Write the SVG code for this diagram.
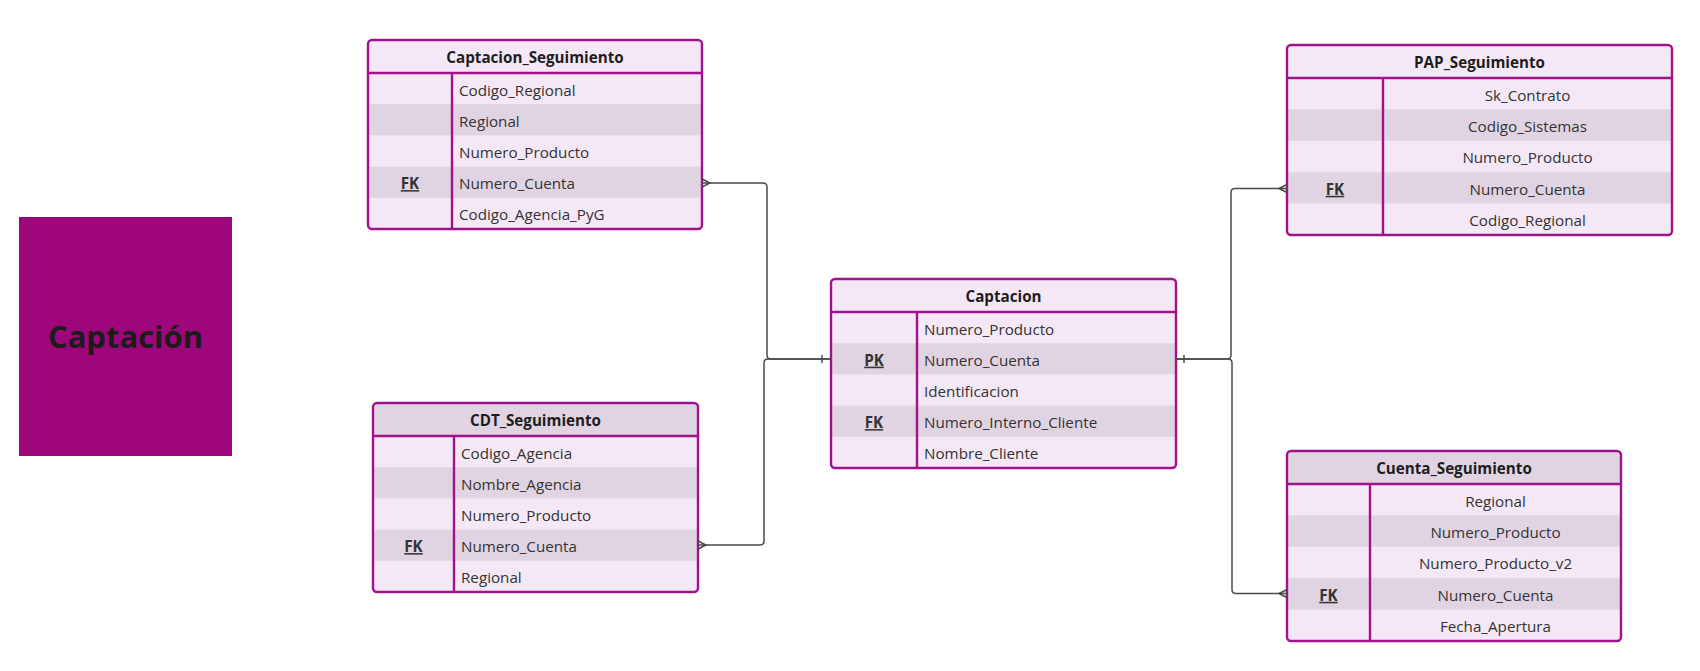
<svg xmlns="http://www.w3.org/2000/svg" width="1700" height="671" viewBox="0 0 1700 671">
<style>
.bg{fill:#f4e8f6}
.dk{fill:#e1d4e2}
.bd{fill:none;stroke:#a0118d;stroke-width:2.4}
.ln{stroke:#a0118d;stroke-width:2.4}
.hd{font-family:"Open Sans","Noto Sans",sans-serif;font-weight:bold;font-size:15.2px;fill:#1d1d1d;text-anchor:middle}
.tx{font-family:"Open Sans","Noto Sans",sans-serif;font-size:15.2px;fill:#333333}
.ct{text-anchor:middle}
.ky{font-family:"Open Sans","Noto Sans",sans-serif;font-weight:bold;font-size:15.2px;fill:#333333;text-anchor:middle;text-decoration:underline}
.cn{fill:none;stroke:#4a4a4a;stroke-width:1.5}
</style>
<rect width="1700" height="671" fill="#ffffff"/>

<g id="title">
<rect x="19" y="217" width="213" height="239" fill="#9e067b"/>
<text x="125.5" y="348" font-family="Open Sans, Noto Sans, sans-serif" font-weight="bold" font-size="31" fill="#1c1c1c" text-anchor="middle">Captación</text>
</g>

<g id="captacion_seguimiento">
<rect class="bg" x="368" y="40" width="334" height="189" rx="4"/>
<rect class="dk" x="369" y="104.2" width="332" height="31.2"/>
<rect class="dk" x="369" y="166.6" width="332" height="31.2"/>
<line class="ln" x1="368" y1="73" x2="702" y2="73"/>
<line class="ln" x1="452" y1="73" x2="452" y2="229"/>
<rect class="bd" x="368" y="40" width="334" height="189" rx="4"/>
<text class="hd" x="535" y="62.5">Captacion_Seguimiento</text>
<text class="tx" x="459" y="95.5">Codigo_Regional</text>
<text class="tx" x="459" y="126.7">Regional</text>
<text class="tx" x="459" y="157.9">Numero_Producto</text>
<text class="ky" x="410" y="189.1">FK</text>
<text class="tx" x="459" y="189.1">Numero_Cuenta</text>
<text class="tx" x="459" y="220.3">Codigo_Agencia_PyG</text>
</g>

<g id="cdt_seguimiento">
<rect class="bg" x="373" y="403" width="325" height="189" rx="4"/>
<path class="dk" d="M377,403 H694 Q698,403 698,407 V436 H373 V407 Q373,403 377,403 Z"/>
<rect class="dk" x="374" y="467.2" width="323" height="31.2"/>
<rect class="dk" x="374" y="529.6" width="323" height="31.2"/>
<line class="ln" x1="373" y1="436" x2="698" y2="436"/>
<line class="ln" x1="454" y1="436" x2="454" y2="592"/>
<rect class="bd" x="373" y="403" width="325" height="189" rx="4"/>
<text class="hd" x="535.5" y="425.5">CDT_Seguimiento</text>
<text class="tx" x="461" y="458.5">Codigo_Agencia</text>
<text class="tx" x="461" y="489.7">Nombre_Agencia</text>
<text class="tx" x="461" y="520.9">Numero_Producto</text>
<text class="ky" x="413.5" y="552.1">FK</text>
<text class="tx" x="461" y="552.1">Numero_Cuenta</text>
<text class="tx" x="461" y="583.3">Regional</text>
</g>

<g id="captacion">
<rect class="bg" x="831" y="279" width="345" height="189" rx="4"/>
<rect class="dk" x="832" y="343.2" width="343" height="31.2"/>
<rect class="dk" x="832" y="405.6" width="343" height="31.2"/>
<line class="ln" x1="831" y1="312" x2="1176" y2="312"/>
<line class="ln" x1="917" y1="312" x2="917" y2="468"/>
<rect class="bd" x="831" y="279" width="345" height="189" rx="4"/>
<text class="hd" x="1003.5" y="301.5">Captacion</text>
<text class="tx" x="924" y="334.5">Numero_Producto</text>
<text class="ky" x="874" y="365.7">PK</text>
<text class="tx" x="924" y="365.7">Numero_Cuenta</text>
<text class="tx" x="924" y="396.9">Identificacion</text>
<text class="ky" x="874" y="428.1">FK</text>
<text class="tx" x="924" y="428.1">Numero_Interno_Cliente</text>
<text class="tx" x="924" y="459.3">Nombre_Cliente</text>
</g>

<g id="pap_seguimiento">
<rect class="bg" x="1287" y="45" width="385" height="190" rx="4"/>
<rect class="dk" x="1288" y="109.4" width="383" height="31.4"/>
<rect class="dk" x="1288" y="172.2" width="383" height="31.4"/>
<line class="ln" x1="1287" y1="78" x2="1672" y2="78"/>
<line class="ln" x1="1383" y1="78" x2="1383" y2="235"/>
<rect class="bd" x="1287" y="45" width="385" height="190" rx="4"/>
<text class="hd" x="1479.5" y="67.5">PAP_Seguimiento</text>
<text class="tx ct" x="1527.5" y="100.6">Sk_Contrato</text>
<text class="tx ct" x="1527.5" y="132">Codigo_Sistemas</text>
<text class="tx ct" x="1527.5" y="163.4">Numero_Producto</text>
<text class="ky" x="1335" y="194.8">FK</text>
<text class="tx ct" x="1527.5" y="194.8">Numero_Cuenta</text>
<text class="tx ct" x="1527.5" y="226.2">Codigo_Regional</text>
</g>

<g id="cuenta_seguimiento">
<rect class="bg" x="1287" y="451" width="334" height="190" rx="4"/>
<path class="dk" d="M1291,451 H1617 Q1621,451 1621,455 V484 H1287 V455 Q1287,451 1291,451 Z"/>
<rect class="dk" x="1288" y="515.4" width="332" height="31.4"/>
<rect class="dk" x="1288" y="578.2" width="332" height="31.4"/>
<line class="ln" x1="1287" y1="484" x2="1621" y2="484"/>
<line class="ln" x1="1370" y1="484" x2="1370" y2="641"/>
<rect class="bd" x="1287" y="451" width="334" height="190" rx="4"/>
<text class="hd" x="1454" y="473.5">Cuenta_Seguimiento</text>
<text class="tx ct" x="1495.5" y="506.6">Regional</text>
<text class="tx ct" x="1495.5" y="538">Numero_Producto</text>
<text class="tx ct" x="1495.5" y="569.4">Numero_Producto_v2</text>
<text class="ky" x="1328.5" y="600.8">FK</text>
<text class="tx ct" x="1495.5" y="600.8">Numero_Cuenta</text>
<text class="tx ct" x="1495.5" y="632.2">Fecha_Apertura</text>
</g>

<g id="connectors">
<path class="cn" d="M702,183 H763 Q767,183 767,187 V355 Q767,359 771,359 H831"/>
<path class="cn" d="M702,179 L710,183 L702,187"/>
<path class="cn" d="M822,355 V363"/>
<path class="cn" d="M698,545 H760 Q764,545 764,541 V363 Q764,359 768,359 H831"/>
<path class="cn" d="M698,541 L706,545 L698,549"/>
<path class="cn" d="M1176,359 H1227 Q1231,359 1231,355 V192.5 Q1231,188.5 1235,188.5 H1287"/>
<path class="cn" d="M1287,184.5 L1279,188.5 L1287,192.5"/>
<path class="cn" d="M1184,355 V363"/>
<path class="cn" d="M1176,359 H1228 Q1232,359 1232,363 V589.5 Q1232,593.5 1236,593.5 H1287"/>
<path class="cn" d="M1287,589.5 L1279,593.5 L1287,597.5"/>
</g>
</svg>
